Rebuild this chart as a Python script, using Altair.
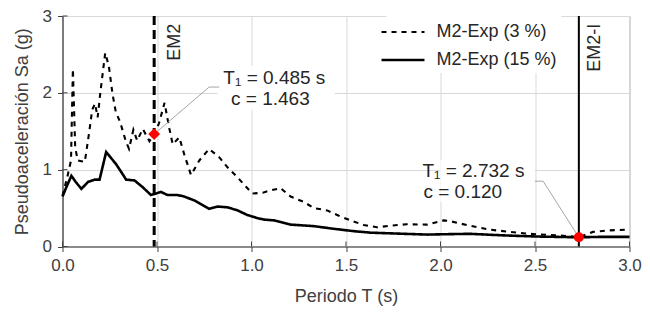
import altair as alt
import pandas as pd

FONT = "Liberation Sans"

# Series: M2-Exp (3 %) dashed
t3 = [0.0, 0.025, 0.045, 0.055, 0.067, 0.08, 0.1, 0.118, 0.13, 0.142, 0.157, 0.172, 0.186, 0.2, 0.226, 0.245, 0.265,
      0.282, 0.305, 0.335, 0.352, 0.375, 0.395, 0.425, 0.46, 0.485, 0.51, 0.54, 0.565, 0.583, 0.618, 0.644,
      0.68, 0.724, 0.776, 0.83, 0.873, 0.926, 0.97, 1.005, 1.06, 1.10, 1.154, 1.207, 1.277, 1.33, 1.40,
      1.462, 1.523, 1.594, 1.664, 1.734, 1.822, 1.928, 2.016, 2.05, 2.156, 2.26, 2.367, 2.47, 2.578, 2.68,
      2.732, 2.807, 2.894, 3.0]
sa3 = [0.66, 0.9, 1.12, 2.31, 1.3, 1.12, 1.11, 1.1, 1.3, 1.5, 1.78, 1.86, 1.68, 2.0, 2.52, 2.35, 1.98,
       1.75, 1.62, 1.37, 1.27, 1.52, 1.38, 1.53, 1.37, 1.463, 1.6, 1.87, 1.54, 1.33, 1.42, 1.2,
       0.93, 1.12, 1.27, 1.16, 1.03, 0.9, 0.78, 0.69, 0.70, 0.73, 0.76, 0.65, 0.58, 0.5, 0.47,
       0.40, 0.34, 0.28, 0.25, 0.27, 0.29, 0.285, 0.34, 0.33, 0.27, 0.22, 0.19, 0.165, 0.15, 0.135,
       0.12, 0.19, 0.21, 0.22]

# Series: M2-Exp (15 %) solid
t15 = [0.0, 0.02, 0.047, 0.07, 0.10, 0.135, 0.17, 0.196, 0.231, 0.284, 0.337, 0.381, 0.425, 0.468, 0.521,
       0.556, 0.609, 0.644, 0.697, 0.776, 0.82, 0.873, 0.926, 0.978, 1.031, 1.066, 1.119, 1.207, 1.33,
       1.436, 1.54, 1.63, 1.75, 1.93, 2.03, 2.156, 2.33, 2.508, 2.732, 2.84, 3.0]
sa15 = [0.65, 0.77, 0.92, 0.84, 0.75, 0.84, 0.87, 0.87, 1.23, 1.07, 0.87, 0.86, 0.77, 0.67, 0.71,
        0.67, 0.67, 0.65, 0.60, 0.49, 0.52, 0.51, 0.47, 0.41, 0.37, 0.35, 0.34, 0.285, 0.265,
        0.23, 0.20, 0.18, 0.17, 0.155, 0.16, 0.165, 0.145, 0.13, 0.12, 0.125, 0.125]

series_names = ["M2-Exp (3 %)", "M2-Exp (15 %)"]

# Key periods / points
em_names = ["EM2", "EM2-I"]
em_periods = [0.485, 2.732]
pt_c = [1.463, 0.120]
pt_shapes = ["diamond", "circle"]
pt_sizes = [140, 100]

# Annotation texts (line1, line2) with anchor positions in data units
ann_lines = ["T\u2081 = 0.485 s", "c = 1.463", "T\u2081 = 2.732 s", "c = 0.120"]
ann_x = [1.121, 1.10, 2.174, 2.118]
ann_y = [2.19, 1.92, 0.977, 0.709]

# leader line vertices
lead_grp = ["a", "a", "a", "b", "b", "b"]
lead_ord = [0, 1, 2, 0, 1, 2]
lead_x = [0.485, 0.776, 0.829, 2.732, 2.543, 2.499]
lead_y = [1.463, 2.075, 2.075, 0.12, 0.85, 0.85]

# white label boxes
box_x = [0.82, 2.0]
box_x2 = [1.44, 2.499]
box_y = [1.78, 0.58]
box_y2 = [2.35, 1.13]

x_ticks = [0.0, 0.5, 1.0, 1.5, 2.0, 2.5, 3.0]
y_ticks = [0, 1, 2, 3]

W, H = 567, 230.5

lines_df = pd.DataFrame({
    "T": t3 + t15,
    "Sa": sa3 + sa15,
    "serie": [series_names[0]] * len(t3) + [series_names[1]] * len(t15),
})

xs = alt.Scale(domain=[0, 3], nice=False, zero=False)
ys = alt.Scale(domain=[0, 3], nice=False)

x_axis = alt.Axis(values=x_ticks, format=".1f", grid=True, gridColor="#d9d9d9", gridWidth=1,
                  domainColor="#404040", tickColor="#404040", tickSize=5, domainWidth=1.2,
                  labelFont=FONT, labelFontSize=17, labelColor="#404040", labelPadding=6,
                  labelFlush=False, labelOverlap=False,
                  title="Periodo T (s)", titleFont=FONT, titleFontSize=18, titleFontWeight="normal",
                  titleColor="#404040", titlePadding=14)
y_axis = alt.Axis(values=y_ticks, format="d", grid=True, gridColor="#d9d9d9", gridWidth=1,
                  domainColor="#404040", tickColor="#404040", tickSize=5, domainWidth=1.2,
                  labelFont=FONT, labelFontSize=17, labelColor="#404040", labelPadding=6,
                  labelFlush=False, labelOverlap=False,
                  title="Pseudoaceleración Sa (g)", titleFont=FONT, titleFontSize=18,
                  titleFontWeight="normal", titleColor="#404040", titlePadding=11)

boxes = alt.Chart(pd.DataFrame({"x": box_x, "x2": box_x2, "y": box_y, "y2": box_y2})).mark_rect(
    color="white").encode(
    x=alt.X("x:Q", scale=xs, axis=x_axis), x2="x2:Q",
    y=alt.Y("y:Q", scale=ys, axis=y_axis), y2="y2:Q")

legend = alt.Legend(orient="none", legendX=324, legendY=0, title=None,
                    symbolType="M-2,0H2", symbolSize=462, symbolStrokeWidth=2.2,
                    symbolStrokeColor="black", symbolFillColor="transparent",
                    labelFont=FONT, labelFontSize=18, labelColor="#262626",
                    fillColor="white", padding=4, rowPadding=6.5,
                    labelOffset=21, labelLimit=300)

lines = alt.Chart(lines_df).mark_line(color="black", strokeCap="butt").encode(
    x=alt.X("T:Q", scale=xs),
    y=alt.Y("Sa:Q", scale=ys),
    strokeDash=alt.StrokeDash("serie:N", scale=alt.Scale(domain=series_names, range=[[5, 5], [1, 0]]),
                              legend=legend),
    strokeWidth=alt.StrokeWidth("serie:N", scale=alt.Scale(domain=series_names, range=[2.1, 2.6]), legend=None),
    order="T:Q",
)

em_df = pd.DataFrame({"T": em_periods, "name": em_names})
em2 = alt.Chart(em_df[em_df.name == "EM2"]).mark_rule(color="black", strokeWidth=3, strokeDash=[9, 5]).encode(
    x=alt.X("T:Q", scale=xs))
em2i = alt.Chart(em_df[em_df.name == "EM2-I"]).mark_rule(color="black", strokeWidth=2).encode(
    x=alt.X("T:Q", scale=xs))
em_lab_df = pd.DataFrame({"T": em_periods, "name": em_names, "y": [2.9, 2.9]})
em_lab1 = alt.Chart(em_lab_df.iloc[[0]]).mark_text(angle=270, align="right", baseline="middle", dy=21,
                                                   font=FONT, fontSize=18, color="#262626").encode(
    x=alt.X("T:Q", scale=xs), y=alt.Y("y:Q", scale=ys), text="name:N")
em_lab2 = alt.Chart(em_lab_df.iloc[[1]]).mark_text(angle=270, align="right", baseline="middle", dy=16.5,
                                                   font=FONT, fontSize=18, color="#262626").encode(
    x=alt.X("T:Q", scale=xs), y=alt.Y("y:Q", scale=ys), text="name:N")

lead = alt.Chart(pd.DataFrame({"x": lead_x, "y": lead_y, "g": lead_grp, "o": lead_ord})).mark_line(
    color="#a6a6a6", strokeWidth=1).encode(
    x=alt.X("x:Q", scale=xs), y=alt.Y("y:Q", scale=ys), detail="g:N", order="o:Q")

pts = alt.Chart(pd.DataFrame({"T": em_periods, "c": pt_c, "s": pt_shapes, "z": pt_sizes})).mark_point(
    filled=True, color="#ff0000", opacity=1).encode(
    x=alt.X("T:Q", scale=xs), y=alt.Y("c:Q", scale=ys), shape=alt.Shape("s:N", scale=None),
    size=alt.Size("z:Q", scale=None))

ann = alt.Chart(pd.DataFrame({"x": ann_x, "y": ann_y, "t": ann_lines})).mark_text(
    font=FONT, fontSize=19, color="#262626", align="center", baseline="middle").encode(
    x=alt.X("x:Q", scale=xs), y=alt.Y("y:Q", scale=ys), text="t:N")

xt = alt.Chart(pd.DataFrame({"v": x_ticks})).mark_rule(color="#404040", strokeWidth=1).encode(
    x=alt.X("v:Q", scale=xs), y=alt.value(H), y2=alt.value(H - 5))
yt = alt.Chart(pd.DataFrame({"v": y_ticks})).mark_rule(color="#404040", strokeWidth=1).encode(
    y=alt.Y("v:Q", scale=ys), x=alt.value(0), x2=alt.value(5))

chart = alt.layer(boxes, lines, em2, em2i, lead, pts, ann, em_lab1, em_lab2, xt, yt).properties(
    width=W, height=H,
    autosize=alt.AutoSizeParams(type="none"),
    padding={"left": 54.5, "top": 8, "right": 12.5, "bottom": 60},
).configure_view(stroke="#a6a6a6", strokeWidth=1)

chart.save("out.html", embed_options={"renderer": "svg", "actions": False})
